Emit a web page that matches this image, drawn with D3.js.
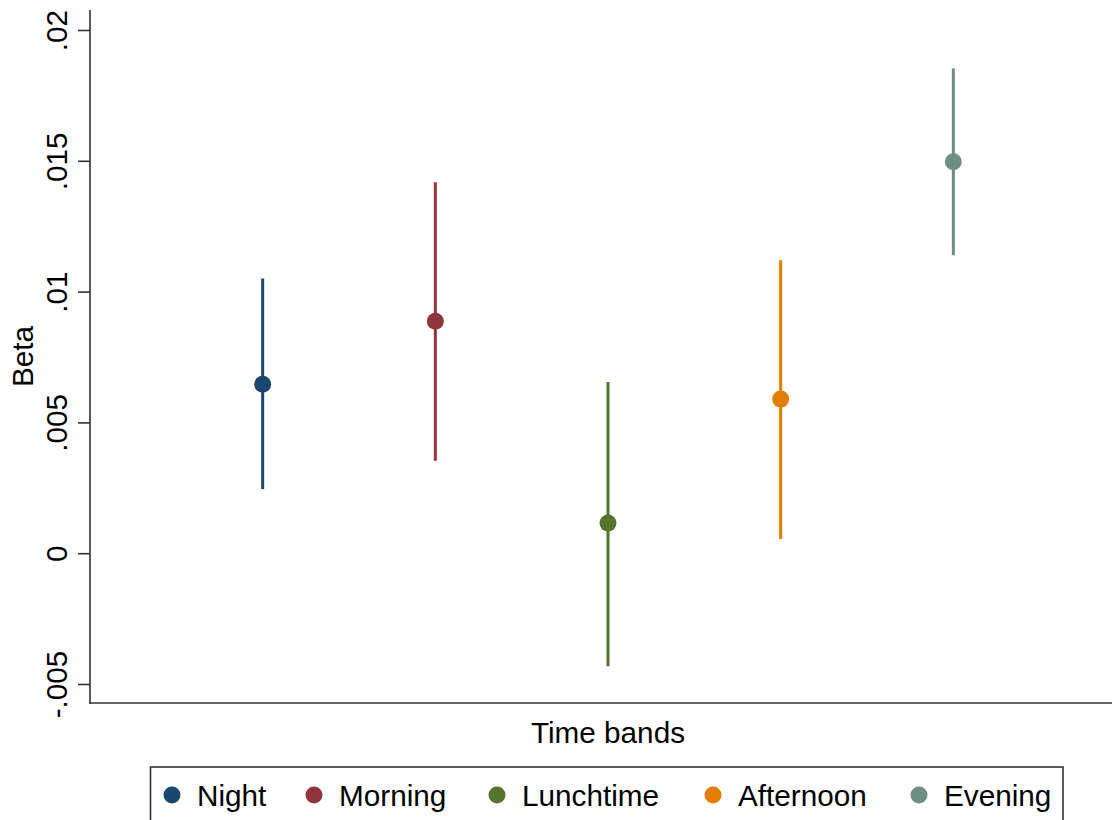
<!DOCTYPE html>
<html><head><meta charset="utf-8">
<script src="https://cdn.jsdelivr.net/npm/d3@7"></script>
<style>html,body{margin:0;padding:0;background:#fff;overflow:hidden}svg{display:block;font-family:"Liberation Sans",Arial,sans-serif}</style>
</head><body>
<script>
const categories = ["Night","Morning","Lunchtime","Afternoon","Evening"];
const beta  = [0.00646, 0.00887, 0.00115, 0.00589, 0.01496];
const lower = [0.00245, 0.00353, -0.00432, 0.00054, 0.01139];
const upper = [0.0105, 0.01418, 0.00654, 0.0112, 0.01853];
const colors = ["#1a476f","#90353b","#55752f","#e37e00","#6e8e84"];
const yTicks = [-0.005, 0, 0.005, 0.01, 0.015, 0.02];
const yTickLabels = ["-.005","0",".005",".01",".015",".02"];

const W = 1112, H = 820;
const FS = 29.7;
const svg = d3.select("body").append("svg").attr("width", W).attr("height", H);

const x = d3.scaleLinear().domain([0, 6]).range([90, 1126]);
const y = d3.scaleLinear().domain([-0.005, 0.02]).range([684, 30]);
const plotTop = 10, plotBottom = 703;

// y axis
const yAxis = d3.axisLeft(y).tickValues(yTicks).tickSize(12).tickFormat((d,i)=>yTickLabels[i]);
const gy = svg.append("g").attr("transform","translate(90,0)").call(yAxis);
gy.select(".domain").remove();
gy.selectAll(".tick line").attr("stroke","#333").attr("stroke-width",1.6);
gy.selectAll(".tick text")
  .attr("x", null).attr("dy", null)
  .attr("transform","translate(-23,0) rotate(-90)")
  .attr("text-anchor","middle")
  .attr("font-size", FS).attr("fill","#000");
svg.append("line").attr("x1",90).attr("x2",90).attr("y1",plotTop).attr("y2",plotBottom+0.8)
  .attr("stroke","#333").attr("stroke-width",1.6);
// x axis line
svg.append("line").attr("x1",89.2).attr("x2",1126).attr("y1",plotBottom).attr("y2",plotBottom)
  .attr("stroke","#333").attr("stroke-width",1.6);

// titles
svg.append("text").attr("transform",`translate(33,${(plotTop+plotBottom)/2}) rotate(-90)`)
  .attr("text-anchor","middle").attr("font-size",FS).text("Beta");
svg.append("text").attr("x",(x(0)+x(6))/2).attr("y",743)
  .attr("text-anchor","middle").attr("font-size",FS).text("Time bands");

// CI lines and points
const g = svg.append("g");
categories.forEach((c,i)=>{
  g.append("line").attr("x1",x(i+1)).attr("x2",x(i+1))
    .attr("y1",y(lower[i])).attr("y2",y(upper[i]))
    .attr("stroke",colors[i]).attr("stroke-width",3);
  g.append("circle").attr("cx",x(i+1)).attr("cy",y(beta[i])).attr("r",8.5).attr("fill",colors[i]);
});

// legend
svg.append("rect").attr("x",150.5).attr("y",767).attr("width",912.5).attr("height",70)
  .attr("fill","none").attr("stroke","#333").attr("stroke-width",1.6);
const legX = [172, 314, 497, 713, 919];
categories.forEach((c,i)=>{
  svg.append("circle").attr("cx",legX[i]).attr("cy",795).attr("r",8.5).attr("fill",colors[i]);
  svg.append("text").attr("x",legX[i]+25).attr("y",806).attr("font-size",FS).text(c);
});
</script>
</body></html>
